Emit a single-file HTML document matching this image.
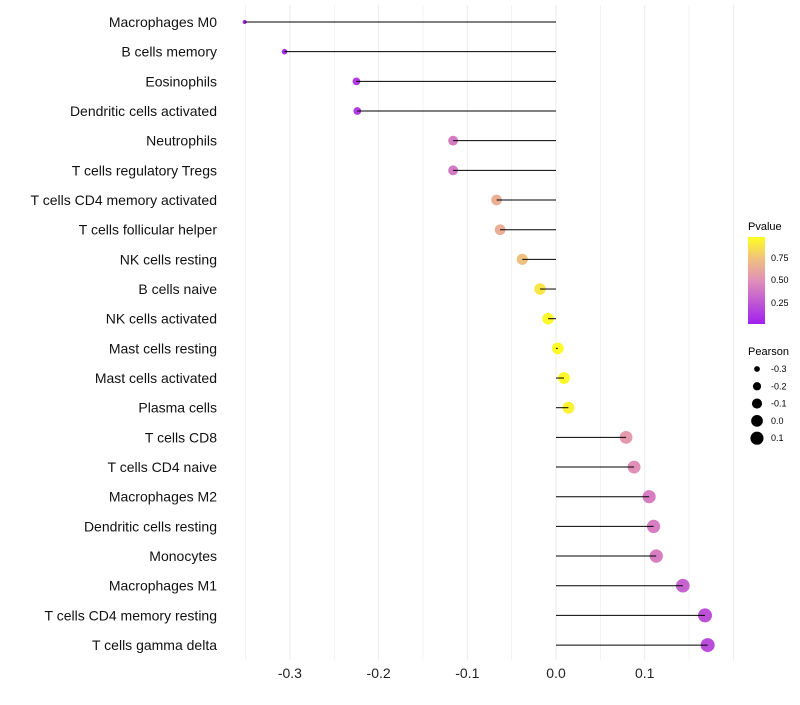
<!DOCTYPE html>
<html><head><meta charset="utf-8"><style>
body{margin:0;background:#fff;font-family:"Liberation Sans",sans-serif}
</style></head><body>
<svg id="chart" width="800" height="700" xmlns="http://www.w3.org/2000/svg">
<defs><linearGradient id="pg" x1="0" y1="1" x2="0" y2="0">
<stop offset="0" stop-color="#a020f0"/><stop offset="0.5" stop-color="#e090b8"/><stop offset="0.75" stop-color="#f0c080"/><stop offset="1" stop-color="#ffff20"/></linearGradient></defs>
<g id="grid"></g><g id="marks"></g><g id="labels"></g>
<g>
<text x="748" y="230" font-size="11">Pvalue</text>
<rect x="748" y="237" width="17" height="87" fill="url(#pg)"/>
<text x="771" y="261" font-size="9">0.75</text>
<text x="771" y="283" font-size="9">0.50</text>
<text x="771" y="306" font-size="9">0.25</text>
</g>
<g id="sizeLegend">
<text x="748" y="355" font-size="11">Pearson</text>
</g>
</svg>
<script>
const categories=["Macrophages M0","B cells memory","Eosinophils","Dendritic cells activated","Neutrophils","T cells regulatory  Tregs ","T cells CD4 memory activated","T cells follicular helper","NK cells resting","B cells naive","NK cells activated","Mast cells resting","Mast cells activated","Plasma cells","T cells CD8","T cells CD4 naive","Macrophages M2","Dendritic cells resting","Monocytes","Macrophages M1","T cells CD4 memory resting","T cells gamma delta"];
const pearson=[-0.351,-0.306,-0.225,-0.224,-0.116,-0.116,-0.067,-0.063,-0.038,-0.018,-0.009,0.002,0.009,0.014,0.079,0.088,0.105,0.110,0.113,0.143,0.168,0.171];
const pvalues=[0.02,0.05,0.12,0.12,0.4,0.4,0.65,0.65,0.75,0.9,0.97,0.99,0.97,0.95,0.55,0.5,0.42,0.42,0.42,0.3,0.22,0.2];
const xTicks=[-0.3,-0.2,-0.1,0.0,0.1];
const xTickLabels=["-0.3","-0.2","-0.1","0.0","0.1"];
const sizeLegendVals=[-0.3,-0.2,-0.1,0.0,0.1];
const NS="http://www.w3.org/2000/svg";
const x=v=>556+v*887;
const y=i=>22+i*29.67;
const r=v=>Math.sqrt(Math.max(2,34.3+86.5*v));
function lerp(a,b,t){return a.map((c,i)=>Math.round(c+(b[i]-c)*t));}
function color(p){const s=[[0,[160,32,240]],[0.5,[224,144,184]],[0.75,[240,192,128]],[1,[255,255,32]]];
for(let k=1;k<s.length;k++){if(p<=s[k][0]){const t=(p-s[k-1][0])/(s[k][0]-s[k-1][0]);const c=lerp(s[k-1][1],s[k][1],t);return `rgb(${c})`;}}return "rgb(255,255,32)";}
function mk(t,a,p){const e=document.createElementNS(NS,t);for(const k in a)e.setAttribute(k,a[k]);p.appendChild(e);return e;}
const grid=document.getElementById('grid'),marks=document.getElementById('marks'),labels=document.getElementById('labels');
for(let v=-0.35;v<=0.2;v+=0.05){const g=mk('line',{x1:x(v),x2:x(v),y1:5,y2:660,stroke:'#ebebeb','stroke-width':Math.abs(Math.round(v*20)%2)===0?1:0.6},grid);
}
xTicks.forEach((v,i)=>{const t=mk('text',{x:x(v),y:678,'font-size':14,'text-anchor':'middle',fill:'#222'},labels);t.textContent=xTickLabels[i];
});
categories.forEach((c,i)=>{
const d=mk('circle',{cx:x(pearson[i]),cy:y(i),r:r(pearson[i]),fill:color(pvalues[i])},marks);

const l=mk('line',{x1:x(0),x2:x(pearson[i]),y1:y(i),y2:y(i),stroke:'#000','stroke-width':1},marks);

const t=mk('text',{x:217,y:y(i)+5,'font-size':14,'text-anchor':'end',fill:'#111'},labels);t.textContent=c;
});
const sl=document.getElementById('sizeLegend');
sizeLegendVals.forEach((v,i)=>{const cy=369+i*17.3;
const c=mk('circle',{cx:757,cy:cy,r:r(v),fill:'#000'},sl);
const t=mk('text',{x:771,y:cy+3,'font-size':9},sl);t.textContent=v.toFixed(1);
});
</script>
</body></html>
